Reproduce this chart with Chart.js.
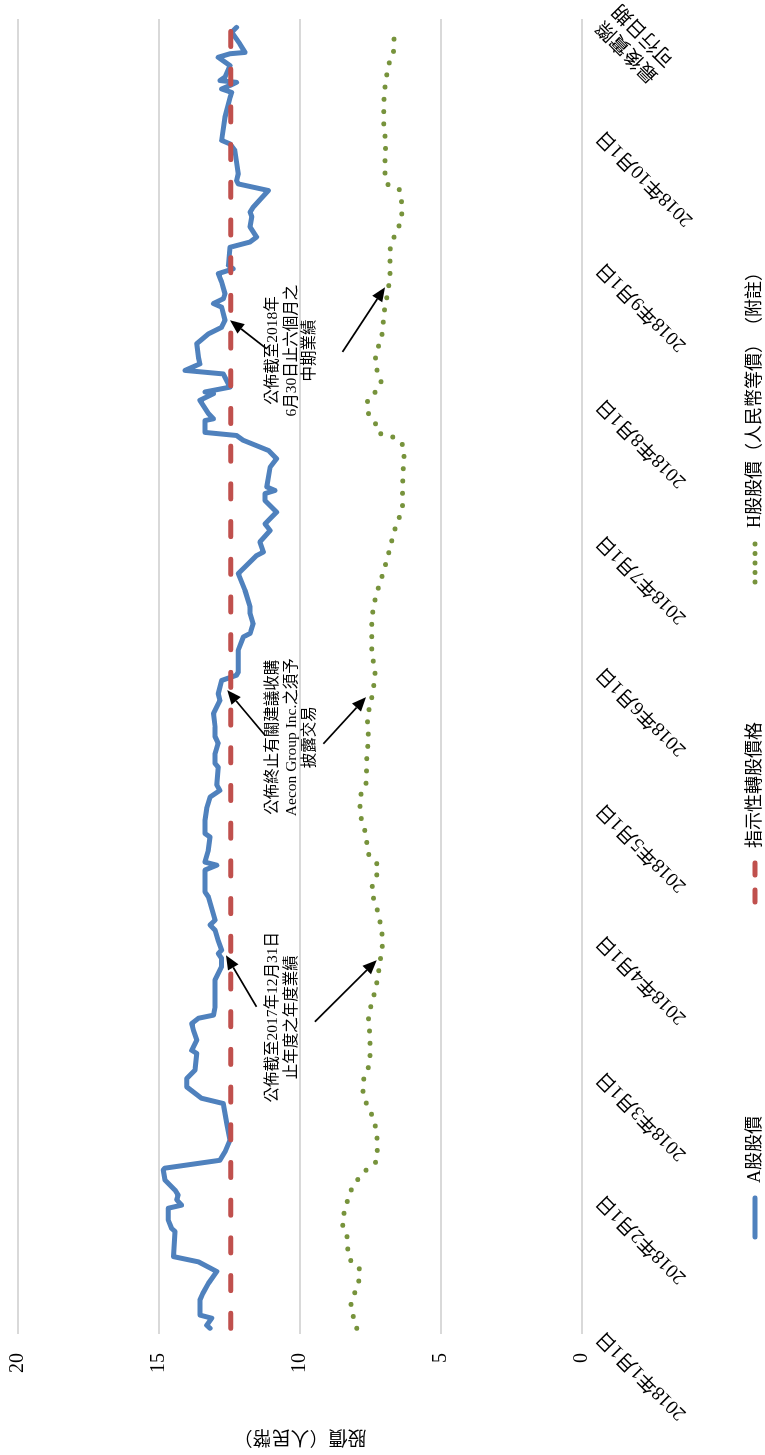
<!DOCTYPE html>
<html>
<head>
<meta charset="utf-8">
<script src="https://cdn.jsdelivr.net/npm/chart.js@4.4.0/dist/chart.umd.min.js"></script>
<style>
    html, body { margin: 0; padding: 0; background: #fff; }
    body { width: 765px; height: 1455px; overflow: hidden; position: relative; }
    /* el gráfico original es apaisado y está girado 90° a la izquierda */
    #giro { position: absolute; left: 0; top: 0; width: 1455px; height: 765px;
            transform-origin: 0 0; transform: translateY(1455px) rotate(-90deg); }
    canvas { display: block; }
</style>
</head>
<body>
<div id="giro"><canvas id="chartPrecios" width="1455" height="765"></canvas></div>
<script>
// días contados desde el 1 de enero de 2018
const diasA = [1.3, 2.0, 3.6, 4.3, 7.7, 9.2, 11.5, 14.2, 16.4, 17.6,
    23.3, 24.0, 25.9, 28.6, 29.3, 30.5, 31.6, 32.7, 35.0, 37.3,
    37.7, 39.5, 41.4, 44.1, 47.9, 52.4, 53.6, 56.2, 58.1, 60.0,
    63.8, 64.5, 66.8, 69.1, 70.6, 71.8, 72.5, 74.4, 80.5, 83.5,
    85.4, 86.5, 87.3, 89.5, 91.8, 93.0, 94.1, 99.4, 100.5, 105.5,
    106.6, 107.3, 110.0, 113.0, 113.8, 116.8, 119.5, 122.1, 123.6, 124.8,
    128.9, 129.7, 132.0, 134.3, 135.8, 138.0, 141.1, 144.1, 145.6, 148.6,
    149.0, 149.8, 150.5, 155.5, 158.5, 159.3, 161.5, 163.8, 165.3, 169.1,
    172.9, 175.2, 177.0, 177.8, 180.1, 182.7, 184.2, 186.9, 189.5, 191.1,
    191.8, 192.6, 197.1, 199.0, 200.9, 203.2, 204.3, 205.0, 207.7, 208.1,
    209.3, 212.3, 213.8, 214.2, 215.3, 218.3, 219.1, 220.6, 222.0, 225.2,
    227.4, 228.9, 230.5, 233.5, 234.3, 235.4, 236.5, 239.2, 241.1, 242.2,
    243.0, 247.1, 248.3, 249.4, 251.7, 254.0, 255.1, 256.2, 260.0, 261.5,
    262.3, 263.8, 269.1, 270.6, 271.4, 276.7, 281.2, 282.3, 283.1, 283.9,
    284.6, 285.0, 285.8, 288.4, 290.3, 291.1, 291.4, 293.3, 296.0, 297.1];
const precioA = [13.19, 13.31, 13.13, 13.55, 13.55, 13.45, 13.25, 12.95, 13.60, 14.49,
    14.43, 14.55, 14.67, 14.67, 14.20, 14.37, 14.32, 14.43, 14.79, 14.85,
    14.80, 12.84, 12.66, 12.48, 12.60, 12.72, 13.49, 14.02, 14.02, 13.72,
    13.66, 13.84, 13.66, 13.78, 13.84, 13.60, 13.07, 13.01, 13.01, 12.78,
    12.78, 12.90, 12.78, 12.90, 13.01, 13.19, 13.01, 13.25, 13.37, 13.37,
    12.95, 13.37, 13.25, 13.19, 13.37, 13.37, 13.31, 13.19, 12.84, 12.95,
    12.90, 13.01, 13.01, 12.90, 13.01, 13.01, 13.07, 12.84, 12.90, 12.78,
    12.60, 12.25, 12.19, 12.19, 12.01, 11.77, 11.66, 11.77, 11.77, 11.95,
    12.19, 11.83, 11.54, 11.30, 11.42, 11.06, 11.24, 10.83, 11.24, 11.24,
    10.89, 11.18, 11.06, 10.83, 11.12, 12.01, 12.25, 13.37, 13.37, 13.07,
    13.25, 13.55, 13.07, 13.37, 12.48, 12.72, 14.08, 13.55, 13.60, 13.66,
    13.25, 12.78, 12.66, 12.78, 13.07, 12.72, 12.66, 12.78, 12.90, 12.37,
    12.54, 12.48, 11.77, 11.54, 11.77, 11.71, 11.77, 11.66, 11.12, 12.19,
    12.25, 12.19, 12.31, 12.48, 12.78, 12.66, 12.48, 12.42, 12.78, 12.48,
    12.25, 12.84, 12.66, 12.48, 12.90, 12.48, 11.95, 12.13, 12.42, 12.25];

const diasH = [1.3, 6.8, 9.7, 12.5, 15.1, 17.1, 22.6, 25.4, 28.3, 33.6,
    37.8, 39.5, 42.6, 48.5, 53.8, 56.6, 62.3, 68.0, 70.6, 79.2,
    85.0, 89.2, 94.8, 97.9, 100.8, 103.5, 106.2, 108.3, 113.4, 119.1,
    122.0, 124.8, 130.2, 135.9, 139.2, 144.7, 150.0, 155.8, 161.1, 166.8,
    172.5, 178.0, 183.1, 188.3, 193.9, 199.8, 202.7, 204.2, 204.9, 207.1,
    209.5, 212.3, 214.4, 216.7, 218.9, 221.5, 227.0, 232.6, 238.0, 240.8,
    246.7, 252.0, 255.0, 260.2, 261.4, 264.2, 270.1, 275.9, 281.8, 285.8,
    288.6, 291.3, 294.2, 296.6];
const precioH = [7.99, 8.19, 8.04, 7.91, 7.90, 8.25, 8.34, 8.51, 8.40, 8.11,
    7.58, 7.28, 7.26, 7.38, 7.72, 7.78, 7.52, 7.52, 7.58, 7.30,
    7.15, 7.08, 7.20, 7.32, 7.47, 7.33, 7.20, 7.51, 7.66, 7.87,
    7.87, 7.66, 7.64, 7.58, 7.61, 7.46, 7.34, 7.46, 7.46, 7.34,
    7.08, 6.84, 6.63, 6.37, 6.36, 6.31, 6.42, 6.81, 7.22, 7.33,
    7.58, 7.61, 7.30, 7.13, 7.26, 7.33, 7.10, 7.01, 6.86, 6.81,
    6.80, 6.49, 6.39, 6.48, 6.89, 6.99, 6.97, 7.03, 7.01, 6.93,
    6.86, 6.69, 6.67, 6.51];

const precioConversion = 12.46;

const diasTicks = [0, 31, 59, 90, 120, 151, 181, 212, 243, 273, 298];
const etiquetasTicks = ['2018年1月1日', '2018年2月1日', '2018年3月1日', '2018年4月1日',
    '2018年5月1日', '2018年6月1日', '2018年7月1日', '2018年8月1日', '2018年9月1日',
    '2018年10月1日', ['最後實際', '可行日期']];

const nombresSeries = ['A股股價', '指示性轉股價格', 'H股股價（人民幣等價）　（附註）'];

// notas: texto centrado en [día, precio], flechas [día, precio] -> [día, precio]
const notas = [
    { dia: 72.0, precio: 10.95, lineas: ['公佈截至2017年12月31日', '止年度之年度業績'],
      flechas: [[74.4, 11.54, 86.1, 12.62], [71.0, 9.47, 85.0, 7.28]] },
    { dia: 135.7, precio: 10.95, lineas: ['公佈終止有關建議收購', 'Aecon Group Inc.之須予', '披露交易'],
      flechas: [[136.1, 11.24, 146.4, 12.58], [134.2, 9.17, 144.8, 7.66]] },
    { dia: 223.6, precio: 10.95, lineas: ['公佈截至2018年', '6月30日止六個月之', '中期業績'],
      flechas: [[224.0, 11.18, 230.5, 12.48], [223.3, 8.49, 238.0, 6.99]] }
];

const FUENTE = '"Liberation Serif", "Noto Sans CJK TC", serif';
Chart.defaults.font.family = FUENTE;
Chart.defaults.color = '#000';

const notasPlugin = {
    id: 'notas',
    afterDatasetsDraw(chart) {
        const { ctx, scales: { x, y } } = chart;
        ctx.save();
        ctx.font = '15.5px ' + FUENTE;
        ctx.fillStyle = '#000';
        ctx.textAlign = 'center';
        ctx.textBaseline = 'middle';
        notas.forEach(n => {
            const cx = x.getPixelForValue(n.dia);
            const cy = y.getPixelForValue(n.precio);
            n.lineas.forEach((t, i) => ctx.fillText(t, cx, cy + i * 18.5));
            n.flechas.forEach(f => {
                const x0 = x.getPixelForValue(f[0]), y0 = y.getPixelForValue(f[1]);
                const x1 = x.getPixelForValue(f[2]), y1 = y.getPixelForValue(f[3]);
                const ang = Math.atan2(y1 - y0, x1 - x0);
                const largo = 14, ancho = 6;
                const bx = x1 - largo * Math.cos(ang), by = y1 - largo * Math.sin(ang);
                ctx.strokeStyle = '#000';
                ctx.lineWidth = 1.7;
                ctx.beginPath();
                ctx.moveTo(x0, y0);
                ctx.lineTo(bx, by);
                ctx.stroke();
                ctx.beginPath();
                ctx.moveTo(x1, y1);
                ctx.lineTo(bx + ancho * Math.sin(ang), by - ancho * Math.cos(ang));
                ctx.lineTo(bx - ancho * Math.sin(ang), by + ancho * Math.cos(ang));
                ctx.closePath();
                ctx.fill();
            });
        });
        ctx.restore();
    }
};

// leyenda dibujada a mano: Excel reparte los elementos con huecos desiguales
const inicioLeyenda = [215, 550, 870];
const leyendaPlugin = {
    id: 'leyendaPropia',
    afterDraw(chart) {
        const ctx = chart.ctx;
        const trazos = [[], [12, 15], [0, 9.5]];
        const muestra = 45, sep = 12;
        const py = chart.height - 10;
        ctx.save();
        ctx.font = '18px ' + FUENTE;
        chart.data.datasets.forEach((ds, i) => {
            const px = inicioLeyenda[i];
            ctx.beginPath();
            ctx.strokeStyle = ds.borderColor;
            ctx.lineWidth = 5;
            ctx.lineCap = 'round';
            ctx.setLineDash(trazos[i]);
            ctx.moveTo(px + 3, py);
            ctx.lineTo(px + muestra - 3, py);
            ctx.stroke();
            ctx.setLineDash([]);
            ctx.fillStyle = '#000';
            ctx.textAlign = 'left';
            ctx.textBaseline = 'middle';
            ctx.fillText(ds.label, px + muestra + sep, py);
        });
        ctx.restore();
    }
};

const ctx = document.getElementById('chartPrecios').getContext('2d');
new Chart(ctx, {
    type: 'line',
    data: {
        datasets: [{
            label: nombresSeries[0],
            data: diasA.map((d, i) => ({ x: d, y: precioA[i] })),
            borderColor: '#4f81bd', borderWidth: 5, pointRadius: 0, tension: 0,
            borderJoinStyle: 'round', borderCapStyle: 'round', order: 1
        }, {
            label: nombresSeries[1],
            data: [{ x: diasA[0], y: precioConversion }, { x: diasA[diasA.length - 1], y: precioConversion }],
            borderColor: '#c0504d', borderWidth: 5, pointRadius: 0,
            borderDash: [15, 22.7], borderCapStyle: 'round', order: 0
        }, {
            label: nombresSeries[2],
            data: diasH.map((d, i) => ({ x: d, y: precioH[i] })),
            borderColor: '#77933c', borderWidth: 5, pointRadius: 0,
            cubicInterpolationMode: 'monotone',
            borderDash: [0, 12.3], borderCapStyle: 'round', order: 2
        }]
    },
    options: {
        responsive: false,
        animation: false,
        layout: { padding: { left: 0, right: 19, top: 18, bottom: 0 } },
        plugins: { legend: { display: false }, tooltip: { enabled: false } },
        scales: {
            x: {
                type: 'linear', min: 0, max: 299,
                grid: { display: false, drawTicks: false },
                border: { display: false },
                afterBuildTicks: s => { s.ticks = diasTicks.map(v => ({ value: v })); },
                afterFit: s => { s.height = 183; s.paddingLeft = 0; s.paddingRight = 0; },
                ticks: {
                    autoSkip: false, minRotation: 45, maxRotation: 45, padding: 10,
                    font: { size: 19.5 }, color: '#000',
                    callback: (v, i) => etiquetasTicks[i]
                }
            },
            y: {
                min: 0, max: 20,
                grid: { color: '#d9d9d9', lineWidth: 2, drawTicks: false },
                border: { display: false },
                afterFit: s => { s.width = 121; s.paddingTop = 0; s.paddingBottom = 0; },
                ticks: { stepSize: 5, padding: 19, font: { size: 20 }, color: '#000' },
                title: { display: true, text: '股價（人民幣）', font: { size: 19 }, color: '#000',
                         padding: { top: 8, bottom: 0 } }
            }
        }
    },
    plugins: [notasPlugin, leyendaPlugin]
});
</script>
</body>
</html>
